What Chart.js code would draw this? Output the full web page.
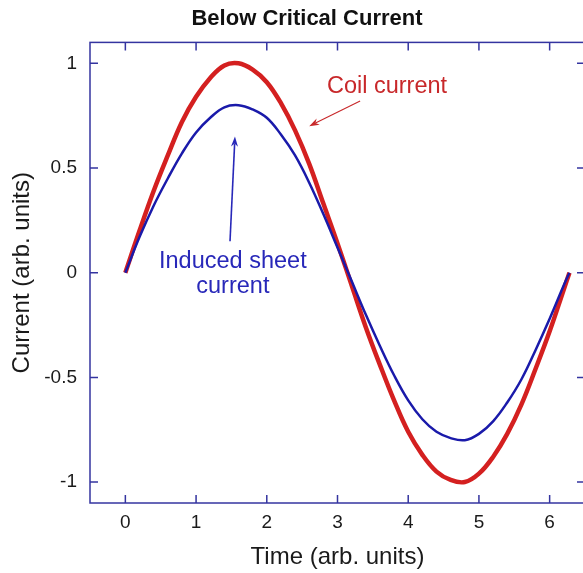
<!DOCTYPE html>
<html lang="en">
<head>
    <meta charset="UTF-8">
    <meta name="viewport" content="width=device-width, initial-scale=1.0">
    <script src="https://cdn.jsdelivr.net/npm/chart.js"></script>
    <style>
      body { margin: 0; overflow: hidden; background: #fff; }
      #wrap { width: 614px; height: 573px; }
    </style>
</head>
<body>
  <div id="wrap">
    <canvas id="myChart"></canvas>
  </div>
<script>
    // time samples and the two currents
    const times = [0, 0.2, 0.4, 0.6, 0.8, 1.0, 1.2, 1.4, 1.6, 1.8, 2.0, 2.2, 2.4, 2.6, 2.8, 3.0,
                   3.2, 3.4, 3.6, 3.8, 4.0, 4.2, 4.4, 4.6, 4.8, 5.0, 5.2, 5.4, 5.6, 5.8, 6.0, 6.2, 6.28]
    const coilCurrent = [0, 0.20, 0.39, 0.56, 0.72, 0.84, 0.93, 0.99, 1.00, 0.97, 0.91, 0.81, 0.68, 0.52, 0.33, 0.14,
                         -0.06, -0.26, -0.44, -0.61, -0.76, -0.87, -0.95, -0.99, -1.00, -0.96, -0.88, -0.77, -0.63, -0.46, -0.28, -0.08, 0]
    const sheetCurrent = [0, 0.17, 0.32, 0.45, 0.57, 0.67, 0.74, 0.79, 0.80, 0.78, 0.74, 0.66, 0.56, 0.43, 0.28, 0.12,
                          -0.04, -0.20, -0.35, -0.49, -0.61, -0.70, -0.76, -0.79, -0.80, -0.77, -0.71, -0.62, -0.51, -0.37, -0.22, -0.06, 0]
    const xTicks = [0, 1, 2, 3, 4, 5, 6]
    const yTicks = [-1, -0.5, 0, 0.5, 1]

    const RED = 'rgb(212, 32, 32)'
    const BLUE = 'rgb(26, 26, 170)'
    const FRAME = 'rgb(52, 52, 160)'

    Chart.defaults.font.family = "'Liberation Sans', Arial, sans-serif"
    Chart.defaults.color = '#1a1a1a'

    // labels with arrows, placed in data units
    const notes = [
      {text: ['Coil current'], x: 3.70, y: 0.89, color: 'rgb(200, 40, 42)',
       from: [3.32, 0.82], to: [2.60, 0.70], lw: 1.1},
      {text: ['Induced sheet', 'current'], x: 1.52, y: 0.054, color: 'rgb(40, 40, 185)',
       from: [1.48, 0.15], to: [1.55, 0.65], lw: 1.6}
    ]

    function arrow(ctx, x1, y1, x2, y2, color, lw) {
      const a = Math.atan2(y2 - y1, x2 - x1)
      const len = 10, w = 3.5
      ctx.save()
      ctx.strokeStyle = color
      ctx.fillStyle = color
      ctx.lineWidth = lw
      ctx.beginPath()
      ctx.moveTo(x1, y1)
      ctx.lineTo(x2 - Math.cos(a) * len * 0.7, y2 - Math.sin(a) * len * 0.7)
      ctx.stroke()
      ctx.beginPath()
      ctx.moveTo(x2, y2)
      ctx.lineTo(x2 - Math.cos(a) * len - Math.sin(a) * w, y2 - Math.sin(a) * len + Math.cos(a) * w)
      ctx.lineTo(x2 - Math.cos(a) * len * 0.7, y2 - Math.sin(a) * len * 0.7)
      ctx.lineTo(x2 - Math.cos(a) * len + Math.sin(a) * w, y2 - Math.sin(a) * len - Math.cos(a) * w)
      ctx.closePath()
      ctx.fill()
      ctx.restore()
    }

    const framePlugin = {
      id: 'frame',
      afterDraw(chart) {
        const {ctx, chartArea: a, scales: {x, y}} = chart
        ctx.save()
        ctx.strokeStyle = FRAME
        ctx.lineWidth = 1.5
        ctx.strokeRect(a.left, a.top, a.right - a.left, a.bottom - a.top)
        // inward tick marks on all four sides
        const t = 8
        ctx.beginPath()
        xTicks.forEach(v => {
          const px = x.getPixelForValue(v)
          ctx.moveTo(px, a.bottom); ctx.lineTo(px, a.bottom - t)
          ctx.moveTo(px, a.top); ctx.lineTo(px, a.top + t)
        })
        yTicks.forEach(v => {
          const py = y.getPixelForValue(v)
          ctx.moveTo(a.left, py); ctx.lineTo(a.left + t, py)
          ctx.moveTo(a.right, py); ctx.lineTo(a.right - t, py)
        })
        ctx.stroke()
        ctx.restore()

        notes.forEach(n => {
          ctx.save()
          ctx.font = "23.5px 'Liberation Sans', Arial, sans-serif"
          ctx.fillStyle = n.color
          ctx.textAlign = 'center'
          ctx.textBaseline = 'middle'
          n.text.forEach((line, i) => {
            ctx.fillText(line, x.getPixelForValue(n.x), y.getPixelForValue(n.y) + i * 25)
          })
          ctx.restore()
          arrow(ctx, x.getPixelForValue(n.from[0]), y.getPixelForValue(n.from[1]),
                x.getPixelForValue(n.to[0]), y.getPixelForValue(n.to[1]), n.color, n.lw)
        })
      }
    }

    const ctx = document.getElementById('myChart')
    new Chart(ctx, {
      type: 'line',
      data: {
        datasets: [{
          label: 'Coil current',
          data: times.map((t, i) => ({x: t, y: coilCurrent[i]})),
          borderColor: RED,
          borderWidth: 4.5,
          pointRadius: 0,
          tension: 0.4,
          order: 1
        }, {
          label: 'Induced sheet current',
          data: times.map((t, i) => ({x: t, y: sheetCurrent[i]})),
          borderColor: BLUE,
          borderWidth: 2.5,
          pointRadius: 0,
          tension: 0.4,
          order: 0
        }]
      },
      options: {
        responsive: true,
        maintainAspectRatio: false,
        animation: false,
        plugins: {
          legend: { display: false },
          tooltip: { enabled: false },
          title: {
            display: true,
            text: 'Below Critical Current',
            color: '#111',
            font: { size: 22, weight: 'bold' },
            padding: { top: 6, bottom: 10 }
          }
        },
        scales: {
          x: {
            type: 'linear',
            min: -0.5,
            max: 6.5,
            grid: { display: false },
            border: { display: false },
            afterBuildTicks: s => { s.ticks = xTicks.map(v => ({value: v})) },
            afterFit: s => { s.height = 70 },
            ticks: { font: { size: 19 }, padding: 0, maxRotation: 0 },
            title: { display: true, text: 'Time (arb. units)', font: { size: 24 }, padding: { bottom: 1 } }
          },
          y: {
            min: -1.1,
            max: 1.1,
            grid: { display: false },
            border: { display: false },
            afterBuildTicks: s => { s.ticks = yTicks.map(v => ({value: v})) },
            afterFit: s => { s.width = 90 },
            ticks: { font: { size: 19 }, padding: 5, callback: v => String(v) },
            title: { display: true, text: 'Current (arb. units)', font: { size: 24 }, padding: { top: 8 } }
          },
          // empty right-hand strip, keeps the frame edge just past the window
          yRight: {
            position: 'right',
            min: -1.1,
            max: 1.1,
            grid: { display: false },
            border: { display: false },
            ticks: { display: false },
            afterFit: s => { s.width = 29 }
          }
        }
      },
      plugins: [framePlugin]
    })
</script>
</body>
</html>
